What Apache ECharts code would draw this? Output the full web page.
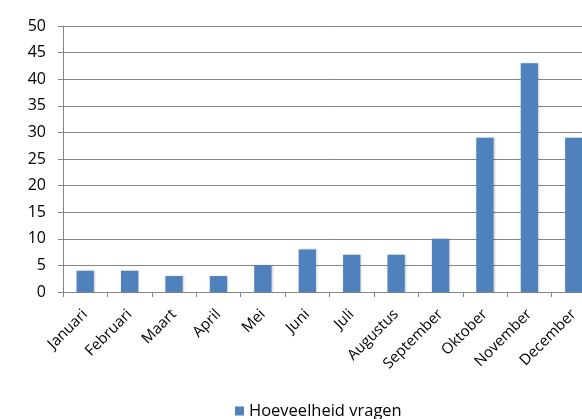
<!DOCTYPE html>
<html><head><meta charset="utf-8">
<script src="https://cdn.jsdelivr.net/npm/echarts@6/dist/echarts.min.js"></script>
<style>html,body{margin:0;padding:0;background:#fff;overflow:hidden;width:582px;height:419px}#c{width:596px;height:419px}</style>
</head><body><div id="c"></div>
<script>
const categories = ['Januari','Februari','Maart','April','Mei','Juni','Juli','Augustus','September','Oktober','November','December'];
const values = [4,4,3,3,5,8,7,7,10,29,43,29];
const seriesName = 'Hoeveelheid vragen';
const yMin = 0, yMax = 50, yStep = 5;

const chart = echarts.init(document.getElementById('c'), null, {renderer:'canvas'});
const font = '"Open Sans", "Liberation Sans", sans-serif';
chart.setOption({
  animation:false,
  backgroundColor:'#fff',
  grid:{left:63, right:0, top:26, bottom:127, containLabel:false},
  legend:{top:402, left:235, padding:0, itemWidth:9, itemHeight:9, icon:'rect', itemGap:10,
    textStyle:{fontFamily:font, fontSize:16.5, lineHeight:18, color:'#000'}, data:[seriesName]},
  xAxis:{type:'category', data:categories,
    axisLine:{lineStyle:{color:'#868686', width:1}},
    axisTick:{show:true, alignWithLabel:false, length:5, lineStyle:{color:'#868686'}},
    axisLabel:{rotate:45, interval:0, fontFamily:font, fontSize:15, color:'#000', margin:20}},
  yAxis:{type:'value', min:yMin, max:yMax, interval:yStep,
    axisLine:{show:true, lineStyle:{color:'#868686', width:1}},
    axisTick:{show:true, inside:false, length:5, lineStyle:{color:'#868686'}},
    axisLabel:{fontFamily:font, fontSize:16, color:'#000', margin:17},
    splitLine:{lineStyle:{color:'#868686', width:1}}},
  series:[{name:seriesName, type:'bar', data:values, barWidth:'39%',
    itemStyle:{color:'#4F81BD', shadowColor:'rgba(0,0,0,0.18)', shadowBlur:2, shadowOffsetX:1, shadowOffsetY:0}}]
});
</script></body></html>
